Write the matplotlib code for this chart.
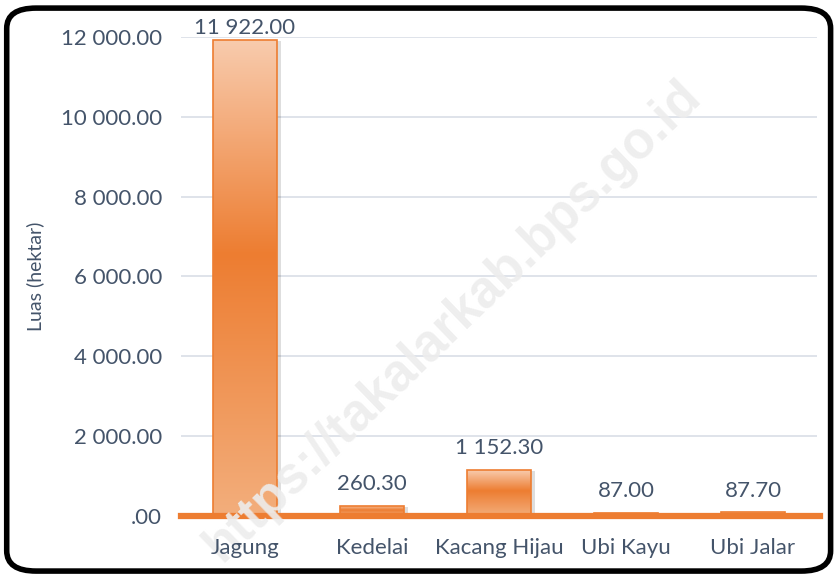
import numpy as np
import matplotlib.pyplot as plt
from matplotlib.patches import FancyBboxPatch
from matplotlib.colors import LinearSegmentedColormap

# data
crops = ['Jagung', 'Kedelai', 'Kacang Hijau', 'Ubi Kayu', 'Ubi Jalar']
luas = [11922.00, 260.30, 1152.30, 87.00, 87.70]
yticks = [0, 2000, 4000, 6000, 8000, 10000, 12000]

def fmt(v):
    s = '{:,.2f}'.format(v).replace(',', ' ')
    return '.00' if v == 0 else s

plt.rcParams['font.family'] = ['Lato', 'DejaVu Sans']
txt = '#44546A'

fig = plt.figure(figsize=(8.39, 5.78), dpi=100)
ax = fig.add_axes([0.2163, 0.1073, 0.7569, 0.8287])

# rounded border around the figure
fig.patches.append(FancyBboxPatch((0.008, 0.012), 0.982, 0.974,
                                  boxstyle='round,pad=0,rounding_size=0.035',
                                  transform=fig.transFigure, fill=False,
                                  lw=4, ec='black', zorder=-1))

x = np.arange(len(crops))
w = 0.5
cmap = LinearSegmentedColormap.from_list(
    'g', [(0, '#F3AE7C'), (0.55, '#ED7D31'), (1, '#F8CBAD')])
grad = np.linspace(0, 1, 256).reshape(-1, 1)

for xi, v in zip(x, luas):
    # shadow
    ax.bar(xi + 0.035, v, w, bottom=-30, color='#000000', alpha=0.13, zorder=2, lw=0)
    b = ax.bar(xi, v, w, color='none', ec='#ED7D31', lw=1.2, zorder=4)[0]
    im = ax.imshow(grad, cmap=cmap, aspect='auto', origin='lower',
                   extent=[xi - w/2, xi + w/2, 0, v], zorder=3, vmin=0, vmax=1)
    im.set_clip_path(b)
    ax.text(xi, min(v + 300, 11980), fmt(v), ha='center', va='bottom', fontsize=16,
            color=txt, clip_on=False)

ax.set_xlim(-0.5, len(crops) - 0.5)
ax.set_ylim(0, 12000)
ax.set_yticks(yticks)
ax.set_yticklabels([fmt(t) for t in yticks], fontsize=16, color=txt)
ax.set_xticks(x)
ax.set_xticklabels(crops, fontsize=16, color=txt)
ax.tick_params(axis='y', length=0, pad=14)
ax.tick_params(axis='x', length=0, pad=16)
ax.grid(axis='y', color='#D9DEE6', lw=1.2)
ax.set_axisbelow(True)
ax.xaxis.set_zorder(6)   # category labels above the watermark
for s in ['top', 'right', 'left']:
    ax.spines[s].set_visible(False)
ax.spines['bottom'].set_color('#ED7D31')
ax.spines['bottom'].set_linewidth(4.5)
ax.spines['bottom'].set_zorder(5)
ax.spines['bottom'].set_bounds(-0.5, 4.53)
ax.set_ylabel('Luas (hektar)', fontsize=14, color=txt, labelpad=12)

# watermark
ax.text(0.54, 0.445, 'https://takalarkab.bps.go.id', rotation=44, fontsize=37,
        fontweight='bold', family='Liberation Sans', color='#EDEDED',
        ha='center', va='center', zorder=5.5, alpha=0.9,
        transform=fig.transFigure, clip_on=False)

fig.savefig('out.png', dpi=100)
